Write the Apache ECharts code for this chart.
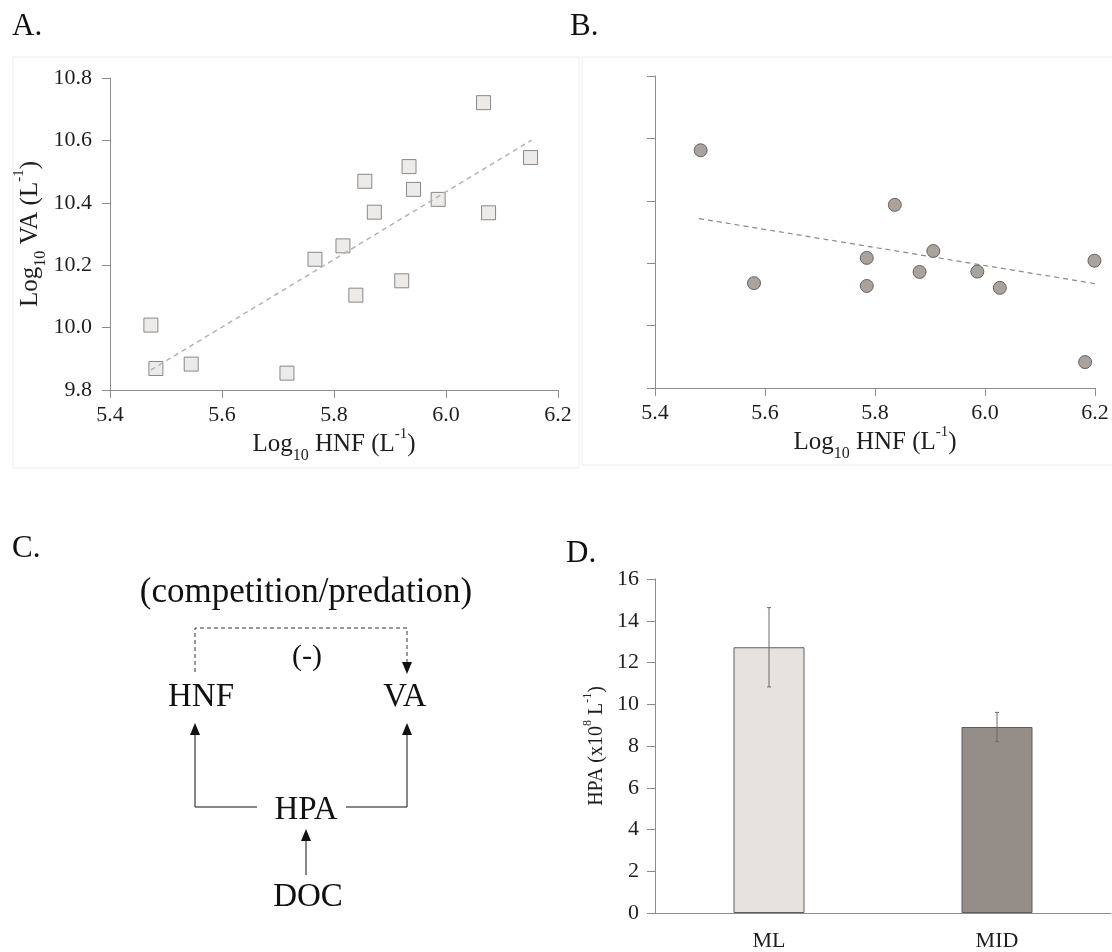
<!DOCTYPE html>
<html>
<head>
<meta charset="utf-8">
<script src="https://cdn.jsdelivr.net/npm/echarts@6/dist/echarts.min.js"></script>
<style>
  html, body { margin: 0; padding: 0; background: #fff; }
  #chart { width: 1112px; height: 952px; }
</style>
</head>
<body>
<div id="chart"></div>
<script>
// panel A: log10 HNF vs log10 VA (squares)
var hnfA = [5.473, 5.482, 5.545, 5.716, 5.766, 5.816, 5.839, 5.855, 5.872, 5.921, 5.934, 5.942, 5.986, 6.067, 6.076, 6.151];
var vaA = [10.008, 9.869, 9.883, 9.854, 10.219, 10.262, 10.104, 10.469, 10.370, 10.150, 10.516, 10.443, 10.411, 10.721, 10.368, 10.545];
var trendA = [[5.473, 9.864], [6.153, 10.601]];

// panel B: log10 HNF vs unlabeled y (circles)
var hnfB = [5.483, 5.580, 5.785, 5.785, 5.836, 5.881, 5.906, 5.986, 6.027, 6.182, 6.199];
var yB = [10.562, 10.136, 10.217, 10.127, 10.387, 10.172, 10.239, 10.173, 10.121, 9.883, 10.208];
var trendB = [[5.480, 10.343], [6.202, 10.134]];

// panel D: HPA by layer
var layers = ['ML', 'MID'];
var hpa = [12.73, 8.91];
var hpaErr = [1.9, 0.7];

var font = 'Liberation Serif';
var axisGrey = '#8c8c8c';
var txt = '#1e1e1e';

function zip(xs, ys) {
  return xs.map(function (x, i) { return [x, ys[i]]; });
}

var logRich = {
  a: { fontFamily: font, fontSize: 25, color: txt, lineHeight: 32, verticalAlign: 'middle' },
  sub: { fontFamily: font, fontSize: 16, color: txt, verticalAlign: 'bottom', lineHeight: 32, padding: [0, 0, -3, 0] },
  sup: { fontFamily: font, fontSize: 15, color: txt, verticalAlign: 'top', lineHeight: 32, padding: [-2, 0, 0, 0] }
};
var hpaRich = {
  a: { fontFamily: font, fontSize: 20, color: txt, lineHeight: 26, verticalAlign: 'middle' },
  sup: { fontFamily: font, fontSize: 12, color: txt, verticalAlign: 'top', lineHeight: 26, padding: [-2, 0, 0, 0] }
};

function valAxis(idx, min, max, interval, showLabel, margin, extra) {
  var ax = {
    type: 'value', gridIndex: idx, min: min, max: max, interval: interval,
    splitLine: { show: false },
    axisLine: { show: true, lineStyle: { color: axisGrey, width: 1 } },
    axisTick: { show: true, length: 8, lineStyle: { color: axisGrey } },
    axisLabel: { show: showLabel, fontFamily: font, fontSize: 22, color: txt, margin: margin,
      formatter: function (v) { return v.toFixed(1); } }
  };
  for (var k in extra) ax[k] = extra[k];
  return ax;
}

var myChart = echarts.init(document.getElementById('chart'));

// diagram (panel C) helpers
function arrowUp(x, y) {
  return { type: 'polygon', shape: { points: [[x, y], [x - 5, y + 12], [x + 5, y + 12]] }, style: { fill: '#111' } };
}
function arrowDown(x, y) {
  return { type: 'polygon', shape: { points: [[x, y], [x - 5, y - 12], [x + 5, y - 12]] }, style: { fill: '#111' } };
}
function label(t, x, y, size) {
  return { type: 'text', x: x, y: y, style: { text: t, fontFamily: font, fontSize: size, fill: '#111', align: 'center', verticalAlign: 'middle' } };
}
function letter(t, x, y) {
  return { type: 'text', x: x, y: y, style: { text: t, fontFamily: font, fontSize: 31, fill: '#111' } };
}

myChart.setOption({
  animation: false,
  grid: [
    { left: 110, top: 78, width: 448, height: 312 },
    { left: 655, top: 76, width: 440, height: 312 },
    { left: 655, top: 579, width: 456, height: 334 }
  ],
  xAxis: [
    valAxis(0, 5.4, 6.2, 0.2, true, 14, {
      name: '{a|Log}{sub|10}{a| HNF (L}{sup|-1}{a|)}', nameLocation: 'middle', nameGap: 38,
      nameTextStyle: { rich: logRich }
    }),
    valAxis(1, 5.4, 6.2, 0.2, true, 14, {
      name: '{a|Log}{sub|10}{a| HNF (L}{sup|-1}{a|)}', nameLocation: 'middle', nameGap: 38,
      nameTextStyle: { rich: logRich }
    }),
    {
      type: 'category', gridIndex: 2, data: layers,
      axisLine: { show: true, lineStyle: { color: axisGrey } },
      axisTick: { show: false },
      axisLabel: { fontFamily: font, fontSize: 22, color: txt, margin: 17 }
    }
  ],
  yAxis: [
    valAxis(0, 9.8, 10.8, 0.2, true, 18, {
      name: '{a|Log}{sub|10}{a| VA (L}{sup|-1}{a|)}', nameLocation: 'middle', nameGap: 64,
      nameTextStyle: { rich: logRich }
    }),
    valAxis(1, 9.8, 10.8, 0.2, false, 12, {}),
    valAxis(2, 0, 16, 2, true, 16, {
      name: '{a|HPA (x10}{sup|8}{a| L}{sup|-1}{a|)}', nameLocation: 'middle', nameGap: 45,
      nameTextStyle: { rich: hpaRich },
      axisLabel: { fontFamily: font, fontSize: 22, color: txt, margin: 16 }
    })
  ],
  series: [
    {
      type: 'line', xAxisIndex: 0, yAxisIndex: 0, data: trendA, symbol: 'none', silent: true,
      lineStyle: { color: '#b4b4b4', width: 1.5, type: [5, 4] }
    },
    {
      type: 'scatter', xAxisIndex: 0, yAxisIndex: 0, data: zip(hnfA, vaA),
      symbol: 'rect', symbolSize: 14,
      itemStyle: { color: '#e8e5e2', borderColor: '#6e6e6e', borderWidth: 1 }
    },
    {
      type: 'line', xAxisIndex: 1, yAxisIndex: 1, data: trendB, symbol: 'none', silent: true,
      lineStyle: { color: '#8a8a8a', width: 1.2, type: [5, 4] }
    },
    {
      type: 'scatter', xAxisIndex: 1, yAxisIndex: 1, data: zip(hnfB, yB),
      symbol: 'circle', symbolSize: 13,
      itemStyle: { color: '#958b84', borderColor: '#4f4a46', borderWidth: 1 }
    },
    {
      type: 'bar', xAxisIndex: 2, yAxisIndex: 2, barWidth: 71, z: 2,
      data: hpa.map(function (v, i) {
        return { value: v, itemStyle: { color: i === 0 ? '#e6e2de' : '#958e88' } };
      }),
      itemStyle: { borderColor: '#5e5e5e', borderWidth: 1 }
    },
    {
      type: 'custom', xAxisIndex: 2, yAxisIndex: 2, silent: true, z: 10,
      data: hpa.map(function (v, i) { return [i, v - hpaErr[i], v + hpaErr[i]]; }),
      encode: { x: 0, y: [1, 2] },
      renderItem: function (params, api) {
        var lo = api.coord([api.value(0), api.value(1)]);
        var hi = api.coord([api.value(0), api.value(2)]);
        var st = { stroke: '#6a6a6a', lineWidth: 1, fill: null };
        return {
          type: 'group',
          children: [
            { type: 'line', shape: { x1: lo[0], y1: lo[1], x2: hi[0], y2: hi[1] }, style: st },
            { type: 'line', shape: { x1: lo[0] - 2, y1: lo[1], x2: lo[0] + 2, y2: lo[1] }, style: st },
            { type: 'line', shape: { x1: hi[0] - 2, y1: hi[1], x2: hi[0] + 2, y2: hi[1] }, style: st }
          ]
        };
      }
    }
  ],
  graphic: [
    // faint panel frames
    { type: 'rect', shape: { x: 13, y: 57, width: 566, height: 411 }, style: { fill: 'none', stroke: '#ececec', lineWidth: 1 }, z: -1 },
    { type: 'rect', shape: { x: 582, y: 57, width: 540, height: 408 }, style: { fill: 'none', stroke: '#ececec', lineWidth: 1 }, z: -1 },
    // panel letters
    letter('A.', 12, 11),
    letter('B.', 570, 11),
    letter('C.', 12, 533),
    letter('D.', 566, 538),
    // panel C diagram
    label('(competition/predation)', 306, 593, 35),
    label('(-)', 307, 657, 30),
    label('HNF', 201, 697, 33),
    label('VA', 405, 697, 33),
    label('HPA', 306, 810, 33),
    label('DOC', 308, 897, 33),
    { type: 'polyline', shape: { points: [[195, 672], [195, 628], [407, 628], [407, 662]] },
      style: { stroke: '#333', lineWidth: 1, fill: 'none', lineDash: [4, 3] } },
    arrowDown(407, 674),
    { type: 'polyline', shape: { points: [[257, 807], [195, 807], [195, 733]] }, style: { stroke: '#111', lineWidth: 1, fill: 'none' } },
    arrowUp(195, 723),
    { type: 'polyline', shape: { points: [[346, 807], [407, 807], [407, 733]] }, style: { stroke: '#111', lineWidth: 1, fill: 'none' } },
    arrowUp(407, 723),
    { type: 'line', shape: { x1: 306, y1: 875, x2: 306, y2: 840 }, style: { stroke: '#111', lineWidth: 1 } },
    arrowUp(306, 829)
  ]
});
</script>
</body>
</html>
